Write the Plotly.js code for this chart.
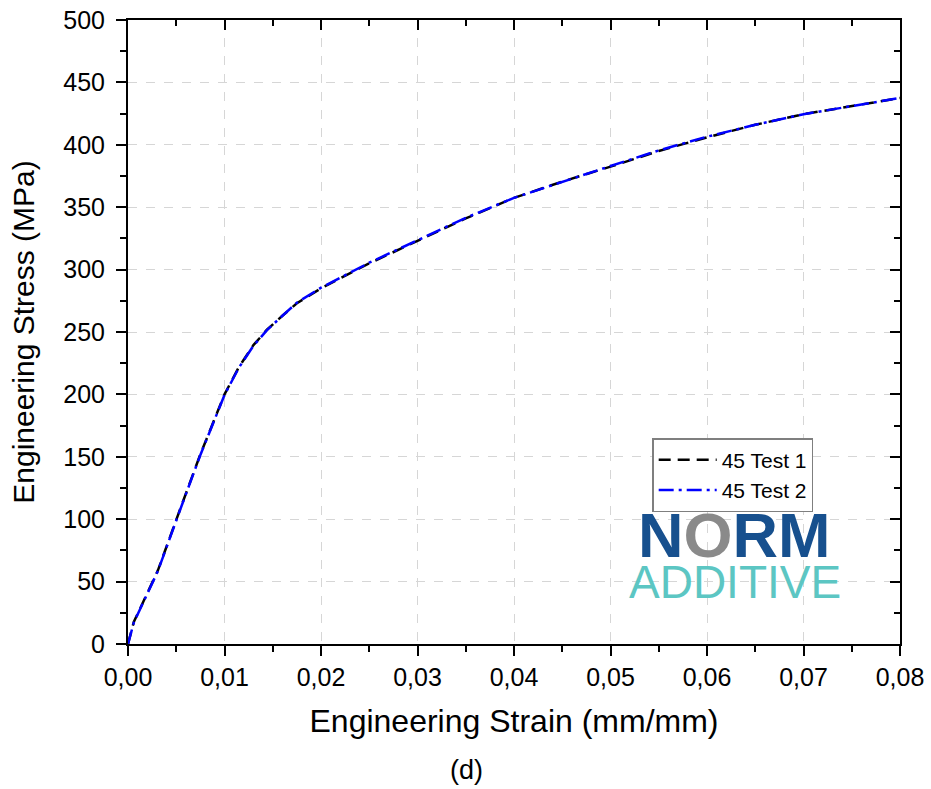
<!DOCTYPE html>
<html>
<head>
<meta charset="utf-8">
<script src="https://cdn.plot.ly/plotly-3.0.1.min.js"></script>
<style>html,body{margin:0;padding:0;background:#fff;}#chart{width:931px;height:789px;}</style>
</head>
<body>
<div id="chart"></div>
<script>
// Data
const strain1 = [0, 0.0006, 0.0015, 0.0031, 0.0054, 0.0075, 0.0100, 0.0115, 0.0130, 0.0144, 0.0160, 0.0175, 0.0200, 0.0250, 0.0300, 0.0350, 0.0400, 0.0450, 0.0500, 0.0550, 0.0600, 0.0650, 0.0700, 0.0750, 0.0800];
const stress1 = [0, 17.6, 32.5, 59, 108, 152, 200, 222, 239.5, 251.8, 263, 273, 285, 305, 323, 341, 357.5, 370.5, 382.5, 395, 406, 416, 424.5, 431, 437.5];
const strain2 = [0, 0.0006, 0.0015, 0.0031, 0.0054, 0.0075, 0.0100, 0.0115, 0.0130, 0.0144, 0.0160, 0.0175, 0.0200, 0.0250, 0.0300, 0.0350, 0.0400, 0.0450, 0.0500, 0.0550, 0.0600, 0.0650, 0.0700, 0.0750, 0.0800];
const stress2 = [0, 17.0, 32.0, 58.5, 107.5, 151.5, 199.5, 221.5, 239, 251.5, 263, 273.5, 285.5, 305.5, 323.5, 341.5, 357.5, 370.5, 383, 395.5, 406.5, 416, 424.5, 431, 437.5];
const seriesNames = ["45 Test 1", "45 Test 2"];
const xTickVals = [0, 0.01, 0.02, 0.03, 0.04, 0.05, 0.06, 0.07, 0.08];
const yTickVals = [0, 50, 100, 150, 200, 250, 300, 350, 400, 450, 500];

const FONT = "Liberation Sans, Arial, sans-serif";

const traces = [
  {x: strain1, y: stress1, name: seriesNames[0], mode: "lines",
   line: {color: "#000000", width: 2.5, dash: "12px,7px"}},
  {x: strain2, y: stress2, name: seriesNames[1], mode: "lines",
   line: {color: "#0000ff", width: 2.5, dash: "15px,5px,3px,5px"}},
  // invisible trace to anchor the mirrored top/right frame axes
  {x: strain1, y: stress1, xaxis: "x2", yaxis: "y2", mode: "lines",
   line: {color: "rgba(0,0,0,0)", width: 0}, showlegend: false, hoverinfo: "skip"}
];

const baseAxis = {
  showline: true, linecolor: "#000", linewidth: 2,
  zeroline: false, color: "#000"
};

const layout = {
  width: 931, height: 789,
  margin: {l: 128, r: 31, t: 20, b: 145},
  paper_bgcolor: "#fff", plot_bgcolor: "#fff",
  separators: ",.",
  font: {family: FONT, color: "#000"},
  showlegend: true,
  legend: {
    x: 0.679, y: 0.33, xanchor: "left", yanchor: "top",
    bgcolor: "#fff", bordercolor: "#7f7f7f", borderwidth: 1.5,
    font: {family: FONT, size: 21, color: "#000"},
    tracegroupgap: 0, itemwidth: 58
  },
  xaxis: Object.assign({}, baseAxis, {
    range: [0, 0.08], tickvals: xTickVals, tickformat: ".2f",
    ticks: "outside", ticklen: 10, tickwidth: 2, tickcolor: "#000",
    tickfont: {family: FONT, size: 25}, ticklabelstandoff: 0,
    showgrid: true, gridcolor: "#d6d6d6", gridwidth: 1, griddash: "dash",
    minor: {dtick: 0.005, ticks: "outside", ticklen: 6, tickwidth: 2, tickcolor: "#000", showgrid: false},
    title: {text: "Engineering Strain (mm/mm)", font: {family: FONT, size: 32}, standoff: 20},
    anchor: "y"
  }),
  yaxis: Object.assign({}, baseAxis, {
    range: [0, 500], tickvals: yTickVals,
    ticks: "outside", ticklen: 10, tickwidth: 2, tickcolor: "#000",
    tickfont: {family: FONT, size: 25}, ticklabelstandoff: 6,
    showgrid: true, gridcolor: "#d6d6d6", gridwidth: 1, griddash: "dash",
    minor: {dtick: 25, ticks: "outside", ticklen: 6, tickwidth: 2, tickcolor: "#000", showgrid: false},
    title: {text: "Engineering Stress (MPa)", font: {family: FONT, size: 30}, standoff: 20},
    anchor: "x"
  }),
  xaxis2: Object.assign({}, baseAxis, {
    overlaying: "x", side: "top", anchor: "y2",
    range: [0, 0.08], tickvals: xTickVals, showticklabels: false,
    ticks: "inside", ticklen: 10, tickwidth: 2, tickcolor: "#000", showgrid: false,
    minor: {dtick: 0.005, ticks: "inside", ticklen: 6, tickwidth: 2, tickcolor: "#000", showgrid: false}
  }),
  yaxis2: Object.assign({}, baseAxis, {
    overlaying: "y", side: "right", anchor: "x2",
    range: [0, 500], tickvals: yTickVals, showticklabels: false,
    ticks: "inside", ticklen: 10, tickwidth: 2, tickcolor: "#000", showgrid: false,
    minor: {dtick: 25, ticks: "inside", ticklen: 6, tickwidth: 2, tickcolor: "#000", showgrid: false}
  }),
  annotations: [
    {xref: "paper", yref: "paper", x: 0.786, y: 0.174, xanchor: "center", yanchor: "middle",
     showarrow: false,
     text: "N<span style='color:#8a8a8a'>O</span>RM",
     font: {family: "Liberation Sans, Arial, sans-serif", size: 63, color: "#17508e", weight: 700}},
    {xref: "paper", yref: "paper", x: 0.786, y: 0.099, xanchor: "center", yanchor: "middle",
     showarrow: false, text: "ADDITIVE",
     font: {family: FONT, size: 46, color: "#5cc6c3"}},
    {xref: "paper", yref: "paper", x: 0.439, y: -0.202, xanchor: "center", yanchor: "middle",
     showarrow: false, text: "(d)",
     font: {family: FONT, size: 27, color: "#000"}}
  ]
};

Plotly.newPlot("chart", traces, layout, {displayModeBar: false, staticPlot: true});
</script>
</body>
</html>
